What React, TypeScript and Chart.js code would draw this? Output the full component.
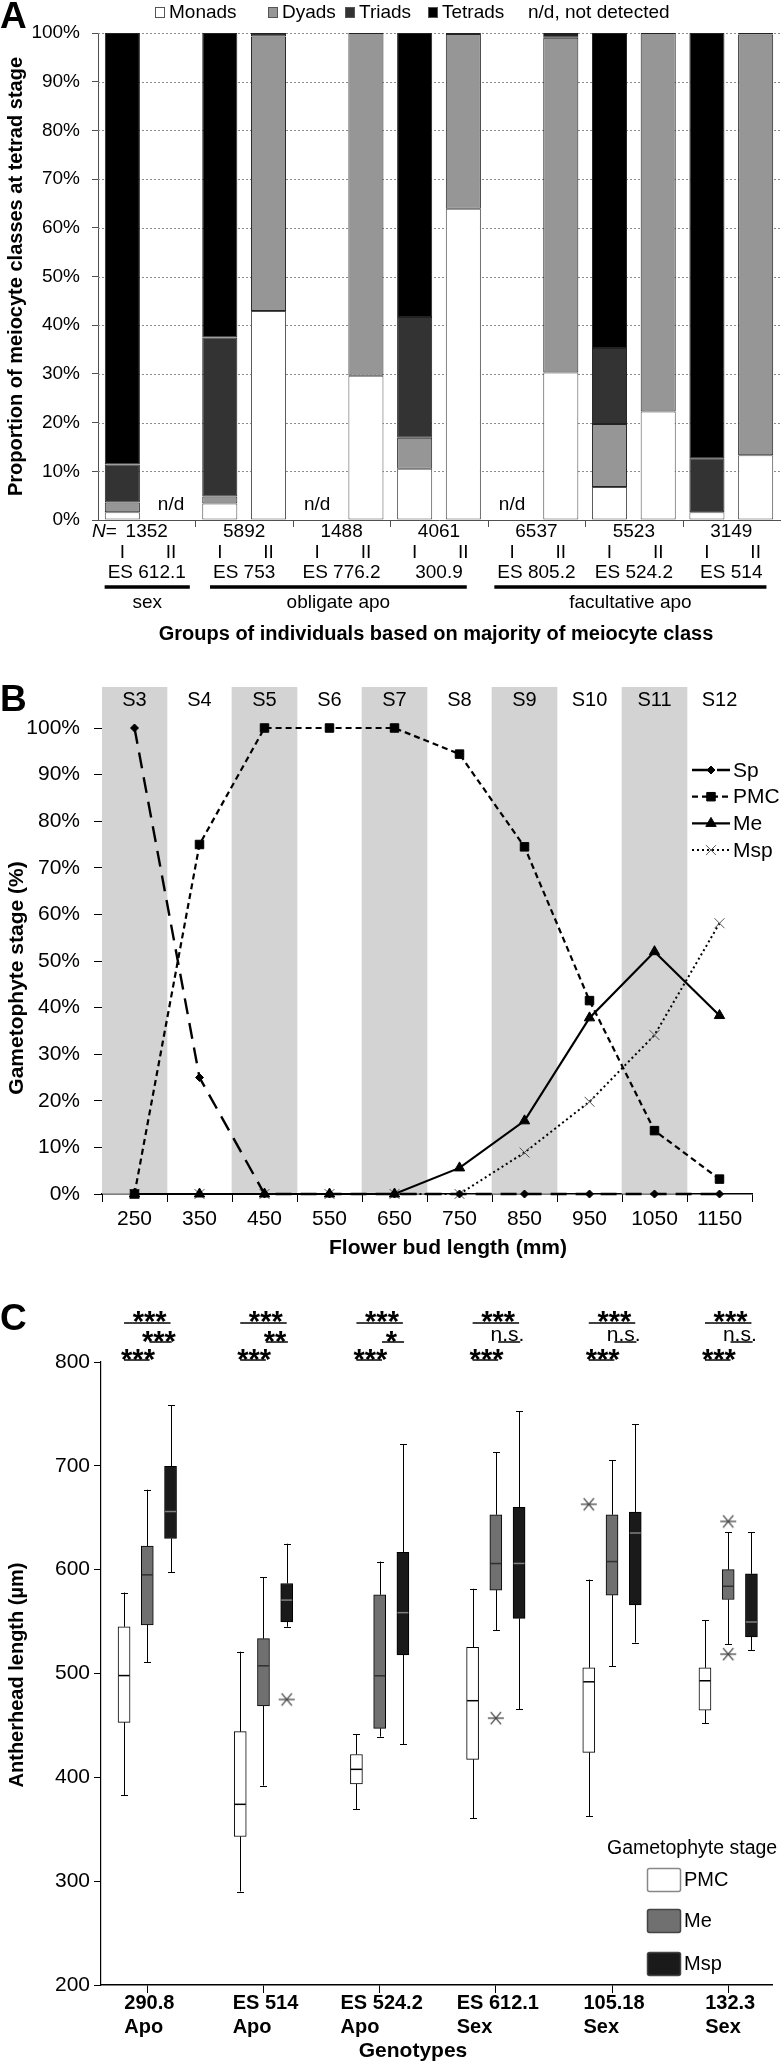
import React, { useEffect, useRef } from 'react';
import { Chart, registerables } from 'chart.js';
import { drawPoint } from 'chart.js/helpers';

Chart.register(...registerables);

const FF = '"Liberation Sans", Arial, Helvetica, sans-serif';
Chart.defaults.color = '#000';
Chart.defaults.font.family = FF;
const fnt = (size: number, bold = false, italic = false) =>
  `${italic ? 'italic ' : ''}${bold ? 'bold ' : ''}${size}px ${FF}`;

// ---------------- Panel A data ----------------
const aGroups = ['ES 612.1', 'ES 753', 'ES 776.2', '300.9', 'ES 805.2', 'ES 524.2', 'ES 514'];
const aGroupN = ['1352', '5892', '1488', '4061', '6537', '5523', '3149'];
const aSubgroups = ['I', 'II'];
const aSlotLabels = aGroups.flatMap((g) => aSubgroups.map((s) => `${g} ${s}`));
const aClassNames = ['Monads', 'Dyads', 'Triads', 'Tetrads'];
const aMonads = [1.6, null, 3.4, 42.9, null, 29.6, 10.5, 63.9, null, 30.3, 6.8, 22.3, 1.6, 13.3];
const aDyads = [2.0, null, 1.4, 56.4, null, 70.4, 6.4, 35.9, null, 68.7, 12.9, 77.7, 0, 86.4];
const aTriads = [7.8, null, 32.7, 0.7, null, 0, 24.8, 0.2, null, 0.6, 15.6, 0, 11.1, 0.3];
const aTetrads = [88.6, null, 62.5, 0, null, 0, 58.3, 0, null, 0.4, 64.7, 0, 87.3, 0];
const aClassLabels = ['sex', 'obligate apo', 'facultative apo'];
const aClassRanges = [[0, 0], [1, 3], [4, 6]];
const aYTicks = [0, 10, 20, 30, 40, 50, 60, 70, 80, 90, 100];

// ---------------- Panel B data ----------------
const bBudLengths = ['250', '350', '450', '550', '650', '750', '850', '950', '1050', '1150'];
const bStages = ['S3', 'S4', 'S5', 'S6', 'S7', 'S8', 'S9', 'S10', 'S11', 'S12'];
const bShaded = [true, false, true, false, true, false, true, false, true, false];
const bSp = [100, 25, 0, 0, 0, 0, 0, 0, 0, 0];
const bPMC = [0, 75, 100, 100, 100, 94.4, 74.5, 41.5, 13.6, 3.2];
const bMe = [0, 0, 0, 0, 0, 5.6, 15.7, 37.8, 52.0, 38.3];
const bMsp = [0, 0, 0, 0, 0, 0, 8.9, 19.8, 34.1, 58.1];
const bYTicks = [0, 10, 20, 30, 40, 50, 60, 70, 80, 90, 100];
const bYMax = 108.8;

// ---------------- Panel C data ----------------
const cGenotypes = ['290.8', 'ES 514', 'ES 524.2', 'ES 612.1', '105.18', '132.3'];
const cReproduction = ['Apo', 'Apo', 'Apo', 'Sex', 'Sex', 'Sex'];
const cStages = ['PMC', 'Me', 'Msp'];
// [min, q1, median, q3, max]
const cPMC = [
  [383, 453, 498, 545, 578],
  [290, 343, 374, 444, 521],
  [369.5, 393.6, 407.7, 422, 441.4],
  [360.5, 417.3, 473.8, 525.3, 581.6],
  [362.8, 424, 492, 505.5, 590.5],
  [452, 464.8, 493, 505.5, 551.2],
];
const cMe = [
  [511, 546.7, 595, 622.8, 677],
  [392, 468.7, 507.4, 533.6, 592.5],
  [439.2, 447.2, 497.8, 575.8, 607.8],
  [541.6, 580.3, 605.9, 652.9, 713],
  [507, 575.5, 607.8, 652.9, 705.3],
  [528, 571.3, 584, 600, 636],
];
const cMsp = [
  [597.6, 630, 656, 699.6, 758.4],
  [545, 549.6, 570.7, 586.7, 625],
  [432, 517.9, 558.6, 616.8, 720.7],
  [465.5, 553.1, 606, 660, 752.4],
  [529.8, 566, 635.3, 655.5, 740.2],
  [522.7, 535.2, 549.6, 596, 636],
];
// outliers: genotype index, stage index, value
const cOutlierGenotype = [4, 3, 5, 5, 1];
const cOutlierStage = [0, 1, 1, 1, 2];
const cOutlierValue = [663, 457, 646.5, 518.6, 475];
const cSigPmcMsp = ['***', '***', '***', '***', '***', '***'];
const cSigMeMsp = ['***', '**', '*', 'n.s.', 'n.s.', 'n.s.'];
const cSigPmcMe = ['***', '***', '***', '***', '***', '***'];

// ---------------- layout / style ----------------
const aColors = ['#ffffff', '#969696', '#333333', '#000000'];
const aLegendBoxX = [155, 268, 345, 428];
const cStageOffset = [-0.2, 0, 0.2];
const cColors = ['#ffffff', '#707070', '#1a1a1a'];
const cMedianColors = ['#000000', '#303030', '#808080'];
const LETTER_SIZE = 37;

function pctLabel(v: any) {
  return v + '%';
}

// ---------------- Panel A ----------------
const panelAPlugin = {
  id: 'panelA',
  beforeDatasetsDraw(chart: any) {
    const { ctx, chartArea: ca, scales } = chart;
    const y = scales.y;
    ctx.save();
    ctx.strokeStyle = '#8c8c8c';
    ctx.lineWidth = 1;
    ctx.setLineDash([2, 2]);
    aYTicks.forEach((v) => {
      if (v === 0) return;
      const py = Math.round(y.getPixelForValue(v)) + 0.5;
      ctx.beginPath();
      ctx.moveTo(ca.left, py);
      ctx.lineTo(ca.right, py);
      ctx.stroke();
    });
    ctx.restore();
  },
  afterDraw(chart: any) {
    const { ctx, chartArea: ca, scales } = chart;
    const x = scales.x;
    const slotW = x.getPixelForValue(1) - x.getPixelForValue(0);
    const gc = (g: number) => (x.getPixelForValue(2 * g) + x.getPixelForValue(2 * g + 1)) / 2;
    ctx.save();
    ctx.fillStyle = '#000';
    ctx.textBaseline = 'middle';
    ctx.textAlign = 'center';
    ctx.font = fnt(19);
    aMonads.forEach((v, i) => {
      if (v === null) ctx.fillText('n/d', x.getPixelForValue(i), ca.bottom - 15);
    });
    // group boundary ticks
    ctx.strokeStyle = '#505050';
    ctx.lineWidth = 1;
    for (let g = 1; g < aGroups.length; g++) {
      const bx = Math.round(x.getPixelForValue(2 * g) - slotW / 2) + 0.5;
      ctx.beginPath();
      ctx.moveTo(bx, ca.bottom);
      ctx.lineTo(bx, ca.bottom + 7);
      ctx.stroke();
    }
    // N=
    ctx.textAlign = 'left';
    ctx.font = fnt(19, false, true);
    ctx.fillText('N', 92, 532);
    const nw = ctx.measureText('N').width;
    ctx.font = fnt(19);
    ctx.fillText('=', 92 + nw, 532);
    ctx.textAlign = 'center';
    aGroupN.forEach((n, g) => ctx.fillText(n, gc(g), 532));
    aSlotLabels.forEach((_, i) => ctx.fillText(aSubgroups[i % 2], x.getPixelForValue(i), 553));
    aGroups.forEach((n, g) => ctx.fillText(n, gc(g), 573));
    aClassRanges.forEach(([a, b], k) => {
      ctx.font = fnt(19);
      const l = gc(a) - ctx.measureText(aGroups[a]).width / 2 - 3;
      const r = gc(b) + ctx.measureText(aGroups[b]).width / 2 + 4;
      ctx.lineWidth = 3.5;
      ctx.strokeStyle = '#000';
      ctx.beginPath();
      ctx.moveTo(l, 587);
      ctx.lineTo(r, 587);
      ctx.stroke();
      ctx.fillText(aClassLabels[k], (l + r) / 2, 603);
    });
    ctx.font = fnt(20, true);
    ctx.fillText('Groups of individuals based on majority of meiocyte class', 436, 634);
    ctx.save();
    ctx.translate(16, (ca.top + ca.bottom) / 2);
    ctx.rotate(-Math.PI / 2);
    ctx.fillText('Proportion of meiocyte classes at tetrad stage', 0, 0);
    ctx.restore();
    // legend
    ctx.font = fnt(19);
    ctx.textAlign = 'left';
    aClassNames.forEach((n, k) => {
      const bx = aLegendBoxX[k];
      ctx.fillStyle = aColors[k];
      ctx.fillRect(bx, 7, 10, 11);
      ctx.strokeStyle = '#555';
      ctx.lineWidth = 1;
      ctx.strokeRect(bx + 0.5, 7.5, 9, 10);
      ctx.fillStyle = '#000';
      ctx.fillText(n, bx + 14, 13);
    });
    ctx.fillText('n/d, not detected', 528, 13);
    // panel letter
    ctx.font = fnt(LETTER_SIZE, true);
    ctx.textBaseline = 'alphabetic';
    ctx.fillText('A', 0, 28);
    ctx.restore();
  },
};

function PanelA() {
  const ref = useRef<HTMLCanvasElement>(null);
  useEffect(() => {
    const series = [aMonads, aDyads, aTriads, aTetrads];
    const chart = new Chart(ref.current as HTMLCanvasElement, {
      type: 'bar',
      data: {
        labels: aSlotLabels,
        datasets: aClassNames.map((name, k) => ({
          label: name,
          data: series[k] as any,
          backgroundColor: aColors[k],
          borderColor: k === 0 ? '#505050' : '#222',
          borderWidth: 1,
          borderSkipped: false,
          barPercentage: 0.72,
          categoryPercentage: 1,
        })),
      },
      options: {
        animation: false,
        responsive: false,
        devicePixelRatio: 1,
        layout: { padding: { left: 0, right: 1, top: 33, bottom: 130 } },
        plugins: { legend: { display: false }, tooltip: { enabled: false } },
        scales: {
          x: {
            stacked: true,
            grid: { display: false },
            ticks: { display: false },
            border: { display: true, color: '#505050', width: 1 },
            afterFit: (s: any) => {
              s.height = 0;
            },
          },
          y: {
            stacked: true,
            min: 0,
            max: 100,
            afterBuildTicks: (s: any) => {
              s.ticks = aYTicks.map((v) => ({ value: v }));
            },
            ticks: { callback: pctLabel, font: { size: 19, family: FF }, color: '#000', padding: 12 },
            grid: { drawOnChartArea: false, tickLength: 6, color: '#505050' },
            border: { color: '#505050', width: 1 },
            afterFit: (s: any) => {
              s.width = 98;
            },
          },
        },
      } as any,
      plugins: [panelAPlugin],
    });
    return () => chart.destroy();
  }, []);
  return (
    <canvas
      ref={ref}
      width={781}
      height={650}
      style={{ position: 'absolute', left: 0, top: 0, width: 781, height: 650, display: 'block' }}
    />
  );
}

// ---------------- Panel B ----------------
const panelBPlugin = {
  id: 'panelB',
  afterDraw(chart: any) {
    const { ctx, chartArea: ca, scales } = chart;
    const x = scales.x;
    ctx.save();
    ctx.fillStyle = '#000';
    ctx.textAlign = 'center';
    ctx.textBaseline = 'middle';
    ctx.font = fnt(20);
    bStages.forEach((s, i) => ctx.fillText(s, x.getPixelForValue(i), ca.top + 13));
    // legend
    let k = 0;
    chart.data.datasets.forEach((ds: any) => {
      if (ds.type === 'bar') return;
      const y = 110 + k * 26.7;
      k++;
      ctx.save();
      ctx.strokeStyle = ds.borderColor;
      ctx.lineWidth = ds.borderWidth;
      ctx.setLineDash(ds.borderDash || []);
      ctx.beginPath();
      ctx.moveTo(692, y);
      ctx.lineTo(730, y);
      ctx.stroke();
      ctx.setLineDash([]);
      ctx.fillStyle = ds.pointBackgroundColor;
      ctx.strokeStyle = ds.pointBorderColor;
      ctx.lineWidth = ds.pointBorderWidth;
      drawPoint(ctx, { pointStyle: ds.pointStyle, radius: ds.pointRadius, rotation: 0, borderWidth: ds.pointBorderWidth } as any, 711, y);
      ctx.restore();
      ctx.fillStyle = '#000';
      ctx.textAlign = 'left';
      ctx.font = fnt(21);
      ctx.fillText(ds.label, 733, y + 1);
    });
    ctx.textAlign = 'center';
    ctx.font = fnt(21, true);
    ctx.fillText('Flower bud length (mm)', 448, 588);
    ctx.save();
    ctx.translate(17, 318);
    ctx.rotate(-Math.PI / 2);
    ctx.fillText('Gametophyte stage (%)', 0, 0);
    ctx.restore();
    ctx.font = fnt(LETTER_SIZE, true);
    ctx.textAlign = 'left';
    ctx.textBaseline = 'alphabetic';
    ctx.fillText('B', 0, 51);
    ctx.restore();
  },
};

function PanelB() {
  const ref = useRef<HTMLCanvasElement>(null);
  useEffect(() => {
    const line = (label: string, data: number[], dash: number[], style: string, radius: number, pColor: string, lw: number) => ({
      type: 'line',
      label,
      data,
      borderColor: '#000',
      borderWidth: lw,
      borderDash: dash,
      tension: 0,
      fill: false,
      pointStyle: style,
      pointRadius: radius,
      pointBackgroundColor: pColor,
      pointBorderColor: pColor,
      pointBorderWidth: 1,
      clip: false,
    });
    const chart = new Chart(ref.current as HTMLCanvasElement, {
      type: 'line',
      data: {
        labels: bBudLengths,
        datasets: [
          line('Sp', bSp, [16, 9], 'rectRot', 4, '#000', 2.4),
          line('PMC', bPMC, [6, 4], 'rect', 6, '#000', 2.2),
          line('Me', bMe, [], 'triangle', 6, '#000', 2.2),
          line('Msp', bMsp, [2, 3], 'crossRot', 7, '#555', 2),
          {
            type: 'bar',
            label: 'stage',
            data: bShaded.map((s) => (s ? bYMax : null)),
            backgroundColor: '#d3d3d3',
            borderWidth: 0,
            barPercentage: 1,
            categoryPercentage: 1,
            order: 10,
          },
        ] as any,
      },
      options: {
        animation: false,
        responsive: false,
        devicePixelRatio: 1,
        layout: { padding: { left: 0, right: 29, top: 27, bottom: 26 } },
        plugins: { legend: { display: false }, tooltip: { enabled: false } },
        scales: {
          x: {
            type: 'category',
            offset: true,
            grid: { offset: true, drawOnChartArea: false, tickLength: 8, color: '#000' },
            ticks: { font: { size: 21, family: FF }, color: '#000', padding: 5, maxRotation: 0, autoSkip: false },
            border: { color: '#000', width: 1.5 },
            afterFit: (s: any) => {
              s.height = 45;
            },
          },
          y: {
            min: 0,
            max: bYMax,
            afterBuildTicks: (s: any) => {
              s.ticks = bYTicks.map((v) => ({ value: v }));
            },
            ticks: { callback: pctLabel, font: { size: 21, family: FF }, color: '#000', padding: 14 },
            grid: { drawOnChartArea: false, tickLength: 8, color: '#000' },
            border: { color: '#000', width: 1 },
            afterFit: (s: any) => {
              s.width = 102;
            },
          },
        },
      } as any,
      plugins: [panelBPlugin],
    });
    return () => chart.destroy();
  }, []);
  return (
    <canvas
      ref={ref}
      width={781}
      height={605}
      style={{ position: 'absolute', left: 0, top: 660, width: 781, height: 605, display: 'block' }}
    />
  );
}

// ---------------- Panel C ----------------
const cBoxes = [cPMC, cMe, cMsp];

const panelCPlugin = {
  id: 'panelC',
  beforeDatasetsDraw(chart: any) {
    const { ctx, scales } = chart;
    const x = scales.x;
    const y = scales.y;
    ctx.save();
    ctx.strokeStyle = '#000';
    ctx.lineWidth = 1;
    cBoxes.forEach((boxes, s) => {
      boxes.forEach((b, g) => {
        const px = Math.round(x.getPixelForValue(g + 1 + cStageOffset[s])) + 0.5;
        const segs = [
          [b[3], b[4]],
          [b[0], b[1]],
        ];
        segs.forEach(([v0, v1]) => {
          ctx.beginPath();
          ctx.moveTo(px, y.getPixelForValue(v0));
          ctx.lineTo(px, y.getPixelForValue(v1));
          ctx.stroke();
        });
        [b[0], b[4]].forEach((v) => {
          const py = Math.round(y.getPixelForValue(v)) + 0.5;
          ctx.beginPath();
          ctx.moveTo(px - 3.5, py);
          ctx.lineTo(px + 3.5, py);
          ctx.stroke();
        });
      });
    });
    ctx.restore();
  },
  afterDatasetsDraw(chart: any) {
    const { ctx, scales } = chart;
    const x = scales.x;
    const y = scales.y;
    ctx.save();
    ctx.lineWidth = 1.5;
    cBoxes.forEach((boxes, s) => {
      ctx.strokeStyle = cMedianColors[s];
      boxes.forEach((b, g) => {
        const px = x.getPixelForValue(g + 1 + cStageOffset[s]);
        const py = y.getPixelForValue(b[2]);
        ctx.beginPath();
        ctx.moveTo(px - 5.5, py);
        ctx.lineTo(px + 5.5, py);
        ctx.stroke();
      });
    });
    ctx.restore();
  },
  afterDraw(chart: any) {
    const { ctx, scales } = chart;
    const x = scales.x;
    ctx.save();
    ctx.fillStyle = '#000';
    ctx.strokeStyle = '#000';
    // significance
    const rows = [
      { labels: cSigPmcMsp, from: -0.2, to: 0.2, lineY: 33, textY: 25, tx: 0.02 },
      { labels: cSigMeMsp, from: 0.02, to: 0.21, lineY: 52, textY: 45, tx: 0.1 },
      { labels: cSigPmcMe, from: -0.2, to: 0.02, lineY: 70, textY: 63, tx: -0.08 },
    ];
    rows.forEach((r) => {
      r.labels.forEach((lab, g) => {
        const t = g + 1;
        ctx.lineWidth = 1.5;
        ctx.beginPath();
        ctx.moveTo(x.getPixelForValue(t + r.from), r.lineY);
        ctx.lineTo(x.getPixelForValue(t + r.to), r.lineY);
        ctx.stroke();
        ctx.textAlign = 'center';
        ctx.textBaseline = 'alphabetic';
        const cx = x.getPixelForValue(t + r.tx);
        if (lab.startsWith('*')) {
          ctx.font = fnt(29, true);
          ctx.fillText(lab, cx, r.textY + 16);
        } else {
          ctx.font = fnt(21);
          ctx.fillText(lab, cx, r.lineY - 1);
        }
      });
    });
    // x labels
    ctx.font = fnt(20, true);
    ctx.textAlign = 'left';
    ctx.textBaseline = 'middle';
    cGenotypes.forEach((gname, g) => {
      const t = x.getPixelForValue(g + 1);
      const w = Math.max(ctx.measureText(gname).width, ctx.measureText(cReproduction[g]).width);
      const left = t - w / 2 + 2;
      ctx.fillText(gname, left, 713);
      ctx.fillText(cReproduction[g], left, 737);
    });
    ctx.textAlign = 'center';
    ctx.font = fnt(21, true);
    ctx.fillText('Genotypes', 413, 761);
    ctx.font = fnt(20, true);
    ctx.save();
    ctx.translate(17, 385);
    ctx.rotate(-Math.PI / 2);
    ctx.fillText('Antherhead length (\u00b5m)', 0, 0);
    ctx.restore();
    // legend
    ctx.font = fnt(19.5);
    ctx.textAlign = 'left';
    ctx.fillText('Gametophyte stage', 607, 559);
    ctx.font = fnt(20);
    const boxTops = [578, 619, 662];
    cStages.forEach((s, k) => {
      const bt = boxTops[k];
      ctx.beginPath();
      (ctx as any).roundRect ? (ctx as any).roundRect(647.5, bt + 0.5, 33, 23, 2) : ctx.rect(647.5, bt + 0.5, 33, 23);
      ctx.fillStyle = cColors[k];
      ctx.fill();
      ctx.lineWidth = 1.5;
      ctx.strokeStyle = k === 0 ? '#888' : '#444';
      ctx.stroke();
      ctx.fillStyle = '#000';
      ctx.fillText(s, 684, bt + 12);
    });
    ctx.font = fnt(LETTER_SIZE, true);
    ctx.textBaseline = 'alphabetic';
    ctx.fillText('C', 0, 40);
    ctx.restore();
  },
};

function makeAsterisk(): HTMLCanvasElement {
  const c = document.createElement('canvas');
  c.width = 18;
  c.height = 16;
  const g = c.getContext('2d') as CanvasRenderingContext2D;
  g.strokeStyle = '#444';
  g.lineWidth = 1.3;
  const cx = 9;
  const cy = 8;
  const r = 8;
  [0, 50, 130].forEach((deg) => {
    const a = (deg * Math.PI) / 180;
    g.beginPath();
    g.moveTo(cx - r * Math.cos(a), cy - r * Math.sin(a));
    g.lineTo(cx + r * Math.cos(a), cy + r * Math.sin(a));
    g.stroke();
  });
  return c;
}

function PanelC() {
  const ref = useRef<HTMLCanvasElement>(null);
  useEffect(() => {
    const star = makeAsterisk();
    const boxDatasets = cStages.map((s, k) => ({
      type: 'bar',
      label: s,
      data: cBoxes[k].map((b, g) => ({ x: g + 1 + cStageOffset[k], y: [b[1], b[3]] })),
      backgroundColor: cColors[k],
      borderColor: '#000',
      borderWidth: 1,
      borderSkipped: false,
      grouped: false,
      maxBarThickness: 12,
      barPercentage: 1,
      categoryPercentage: 1,
    }));
    const outlierDataset = {
      type: 'scatter',
      label: 'outliers',
      data: cOutlierValue.map((v, i) => ({ x: cOutlierGenotype[i] + 1 + cStageOffset[cOutlierStage[i]], y: v })),
      pointStyle: star,
      pointRadius: 8,
      showLine: false,
      clip: false,
    };
    const chart = new Chart(ref.current as HTMLCanvasElement, {
      type: 'bar',
      data: { datasets: [...boxDatasets, outlierDataset] as any },
      options: {
        animation: false,
        responsive: false,
        devicePixelRatio: 1,
        layout: { padding: { left: 0, right: 6, top: 72, bottom: 69 } },
        plugins: { legend: { display: false }, tooltip: { enabled: false } },
        scales: {
          x: {
            type: 'linear',
            offset: false,
            min: 0.6015,
            max: 6.377,
            afterBuildTicks: (s: any) => {
              s.ticks = cGenotypes.map((_, i) => ({ value: i + 1 }));
            },
            ticks: { callback: () => '', padding: 0 },
            grid: { drawOnChartArea: false, tickLength: 8, color: '#000', offset: false },
            border: { color: '#000', width: 1.5 },
            afterFit: (s: any) => {
              s.height = 10;
            },
          },
          y: {
            min: 200,
            max: 800,
            ticks: { stepSize: 100, font: { size: 21, family: FF }, color: '#000', padding: 4 },
            grid: { drawOnChartArea: false, tickLength: 7, color: '#000' },
            border: { color: '#000', width: 1.2 },
            afterFit: (s: any) => {
              s.width = 101;
            },
          },
        },
      } as any,
      plugins: [panelCPlugin],
    });
    return () => chart.destroy();
  }, []);
  return (
    <canvas
      ref={ref}
      width={781}
      height={774}
      style={{ position: 'absolute', left: 0, top: 1290, width: 781, height: 774, display: 'block' }}
    />
  );
}

export default function App() {
  return (
    <div
      style={{
        position: 'absolute',
        left: 0,
        top: 0,
        width: 781,
        height: 2064,
        background: '#fff',
        overflow: 'hidden',
      }}
    >
      <PanelA />
      <PanelB />
      <PanelC />
    </div>
  );
}
